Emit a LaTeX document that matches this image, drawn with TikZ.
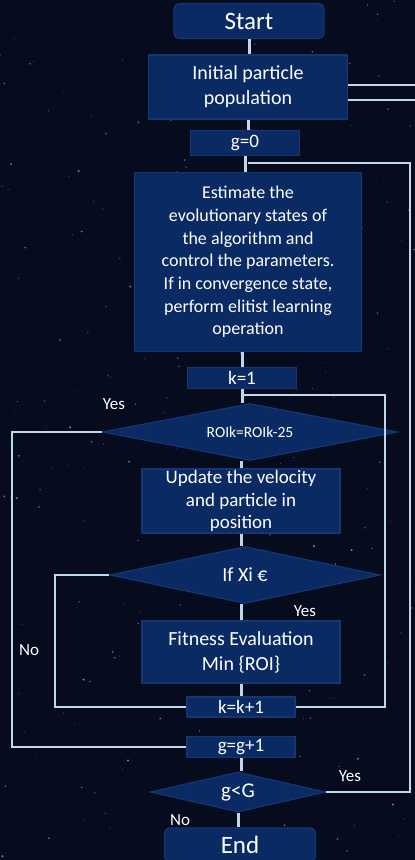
\documentclass[tikz,border=0pt]{standalone}
\usepackage{fontspec}
\setmainfont{Carlito}
\usepackage{tikz}
\usetikzlibrary{positioning, shapes.geometric}
\definecolor{Fondo}{RGB}{7,11,30}
\definecolor{Caja}{RGB}{10,42,100}
\definecolor{Borde}{RGB}{22,54,114}
\definecolor{Linea}{RGB}{190,214,238}
\definecolor{Estrella}{RGB}{170,190,255}

\begin{document}
\begin{tikzpicture}[
  x=1pt, y=-1pt,
  font=\fontsize{19}{23}\selectfont,
  box/.style={draw=Borde, fill=Caja, text=white, line width=1.2pt,
              align=center, inner sep=0pt},
  term/.style={box, rounded corners=5pt},
  cond/.style={diamond, draw=Borde, fill=Caja, text=white, line width=1.2pt,
               align=center, inner sep=0pt, aspect=5},
  conn/.style={draw=Linea, line width=3pt},
  loopline/.style={draw=Linea, line width=1.3pt},
  lbl/.style={text=white, font=\fontsize{17}{20}\selectfont}
]

%% ——— Fondo estrellado ———
\useasboundingbox (0,0) rectangle (415,860);
\fill[Fondo] (0,0) rectangle (415,860);
\pgfmathsetseed{11}
\foreach \s in {1,...,260}{
  \pgfmathsetmacro\op{0.15+0.6*rnd}
  \pgfmathsetmacro\rr{0.3+0.9*rnd}
  \fill[Estrella, opacity=\op] ({415*rnd},{860*rnd}) circle[radius=\rr];
}

%% ——— Inicio ———
\node[term, minimum width=150, minimum height=35,
      font=\fontsize{25}{28}\selectfont] (start) at (249,21) {Start};
\node[box, minimum width=199, minimum height=64,
      font=\fontsize{20}{25}\selectfont] (init) at (248,87) {Initial particle\\population};
\node[box, minimum width=109, minimum height=25] (g0) at (245,143) {g=0};

%% ——— Estados evolutivos ———
\node[box, minimum width=227, minimum height=179,
      font=\fontsize{18}{22.7}\selectfont] (est) at (248,262)
      {Estimate the\\evolutionary states of\\the algorithm and\\control the parameters.\\If in convergence state,\\perform elitist learning\\operation};
\node[box, minimum width=109, minimum height=21] (k1) at (242,378) {k=1};

%% ——— Bucle interno ———
\node[cond, minimum width=295, minimum height=57,
      font=\fontsize{15.5}{18}\selectfont] (roi) at (250,432) {ROIk=ROIk-25};
\node[box, minimum width=198, minimum height=64,
      font=\fontsize{19}{22.7}\selectfont] (upd) at (241,501)
      {Update the velocity\\and particle in\\position};
\node[cond, minimum width=270, minimum height=57,
      font=\fontsize{20}{24}\selectfont] (ifx) at (245,575) {If Xi €};
\node[box, minimum width=198, minimum height=62,
      font=\fontsize{20}{25}\selectfont] (fit) at (241,652)
      {Fitness Evaluation\\Min \{ROI\}};
\node[box, minimum width=108, minimum height=20] (kk) at (241,707) {k=k+1};

%% ——— Bucle externo y fin ———
\node[box, minimum width=108, minimum height=21] (gg) at (241,747) {g=g+1};
\node[cond, minimum width=175, minimum height=40,
      font=\fontsize{21}{24}\selectfont] (gG) at (238,792) {g<G};
\node[term, minimum width=151, minimum height=34,
      font=\fontsize{25}{28}\selectfont] (end) at (240,845) {End};

%% ——— Etiquetas ———
\node[lbl] (yroi) at (114,404) {Yes};
\node[lbl] (yifx) at (305,611) {Yes};
\node[lbl] (nifx) at (29,650) {No};
\node[lbl] (ygG) at (350,776) {Yes};
\node[lbl] (ngG) at (180,820) {No};

%% ——— Puntos de paso ———
\coordinate (sa) at (415,85);
\coordinate (sb) at (415,100);
\coordinate (gjoin) at (248,163);
\coordinate (rg) at (410,163);
\coordinate (kjoin) at (243,395);
\coordinate (rk) at (385,395);
\coordinate (ly) at (12,747);
\coordinate (ln) at (55,707);

%% ——— Conectores verticales ———
\draw[conn] (start.south) -- (start.south |- init.north);
\draw[conn] (init.south) -- (init.south |- g0.north);
\draw[conn] (g0.south) -- (g0.south |- est.north);
\draw[conn] (k1.north |- est.south) -- (k1.north);
\draw[conn] (k1.south) -- (k1.south |- roi.north);
\draw[conn] (upd.north |- roi.south) -- (upd.north);
\draw[conn] (upd.south) -- (upd.south |- ifx.north);
\draw[conn] (fit.north |- ifx.south) -- (fit.north);
\draw[conn] (fit.south) -- (kk.north);
\draw[conn] (gg.south) -- (gg.south |- gG.north);
\draw[conn] (gG.south) -- (gG.south |- end.north);

%% ——— Lazos ———
\draw[loopline] (init.east |- sa) -- (sa);
\draw[loopline] (init.east |- sb) -- (sb);
\draw[loopline] (gG.east) -| (rg) -- (gjoin);
\draw[loopline] (kk.east) -| (rk) -- (kjoin);
\draw[loopline] (roi.west) -| (ly) -- (gg.west);
\draw[loopline] (ifx.west) -| (ln) -- (kk.west);

\end{tikzpicture}
\end{document}
